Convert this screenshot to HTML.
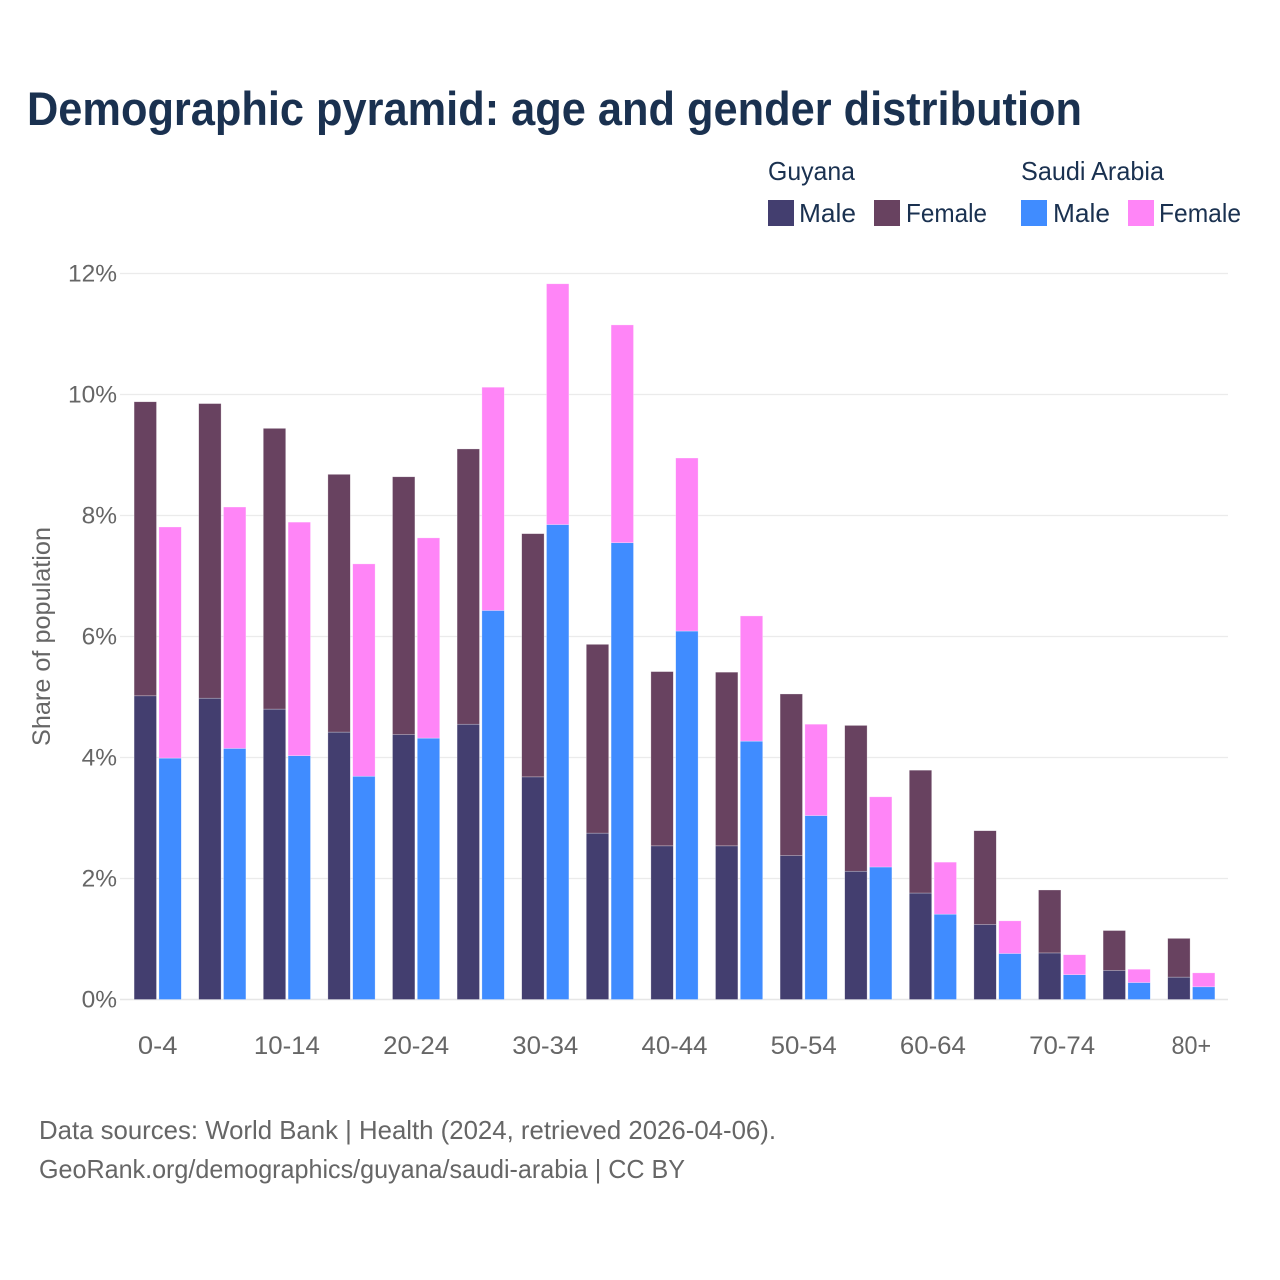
<!DOCTYPE html>
<html lang="en">
<head>
<meta charset="utf-8">
<title>Demographic pyramid: age and gender distribution</title>
<style>
html,body{margin:0;padding:0;background:#fff;width:1280px;height:1280px;overflow:hidden}
svg{display:block}
text{font-family:"Liberation Sans",sans-serif}
</style>
</head>
<body>
<svg id="chart" xmlns="http://www.w3.org/2000/svg" width="1280" height="1280" viewBox="0 0 1280 1280">
  <rect x="0" y="0" width="1280" height="1280" fill="#fff"/>
  <text x="27" y="125" font-size="47" font-weight="700" fill="#1a3150" textLength="1055" lengthAdjust="spacingAndGlyphs">Demographic pyramid: age and gender distribution</text>

  <g font-size="26" fill="#1a3150">
    <text x="768" y="180" textLength="87" lengthAdjust="spacingAndGlyphs">Guyana</text>
    <text x="1021" y="180" textLength="143" lengthAdjust="spacingAndGlyphs">Saudi Arabia</text>
    <rect x="768" y="200" width="26" height="26" fill="#433e6f"/>
    <text x="799" y="222" textLength="57" lengthAdjust="spacingAndGlyphs">Male</text>
    <rect x="874" y="200" width="26" height="26" fill="#684260"/>
    <text x="906" y="222" textLength="81" lengthAdjust="spacingAndGlyphs">Female</text>
    <rect x="1021" y="200" width="26" height="26" fill="#408cff"/>
    <text x="1053" y="222" textLength="57" lengthAdjust="spacingAndGlyphs">Male</text>
    <rect x="1128" y="200" width="26" height="26" fill="#ff85f7"/>
    <text x="1159" y="222" textLength="82" lengthAdjust="spacingAndGlyphs">Female</text>
  </g>

  <text transform="translate(50,636.5) rotate(-90)" text-anchor="middle" font-size="25" fill="#666" textLength="219" lengthAdjust="spacingAndGlyphs">Share of population</text>

  <g id="grid"></g>
  <g id="bars"></g>
  <g id="ylabels"></g>
  <g id="xlabels"></g>

  <text x="39" y="1139" font-size="26" fill="#666" textLength="737" lengthAdjust="spacingAndGlyphs">Data sources: World Bank | Health (2024, retrieved 2026-04-06).</text>
  <text x="39" y="1178" font-size="26" fill="#666" textLength="646" lengthAdjust="spacingAndGlyphs">GeoRank.org/demographics/guyana/saudi-arabia | CC BY</text>
</svg>
<script>
const ageGroups = ["0-4","5-9","10-14","15-19","20-24","25-29","30-34","35-39","40-44","45-49","50-54","55-59","60-64","65-69","70-74","75-79","80+"];
const xTickLabels = ["0-4","10-14","20-24","30-34","40-44","50-54","60-64","70-74","80+"];
const yTicks = [0,2,4,6,8,10,12];
const guyanaMale = [5.02,4.98,4.80,4.42,4.38,4.55,3.68,2.75,2.54,2.54,2.38,2.12,1.76,1.24,0.77,0.48,0.37];
const guyanaFemale = [4.86,4.87,4.64,4.26,4.26,4.55,4.02,3.12,2.88,2.87,2.67,2.41,2.03,1.55,1.04,0.66,0.64];
const saudiMale = [3.99,4.15,4.03,3.69,4.32,6.43,7.85,7.55,6.09,4.27,3.04,2.19,1.41,0.76,0.41,0.28,0.21];
const saudiFemale = [3.82,3.99,3.86,3.51,3.31,3.69,3.98,3.60,2.86,2.07,1.51,1.16,0.86,0.54,0.33,0.22,0.23];

const NS = "http://www.w3.org/2000/svg";
const PLOT = {left:125.4, band:64.6, bottom:999.5, pxPerUnit:60.5, gridLeft:120, gridRight:1228, barW:22.4, gap:2.4};
function yScale(v){ return PLOT.bottom - v * PLOT.pxPerUnit; }
function xCenter(cat){ return PLOT.left + (ageGroups.indexOf(cat) + 0.5) * PLOT.band; }

const gridG = document.getElementById("grid");
const ylabG = document.getElementById("ylabels");
const xlabG = document.getElementById("xlabels");
const barsG = document.getElementById("bars");

yTicks.forEach(function(t){
  const l = document.createElementNS(NS,"line");
  
  
  l.setAttribute("x1",PLOT.gridLeft);
  l.setAttribute("x2",PLOT.gridRight);
  l.setAttribute("y1",yScale(t));
  l.setAttribute("y2",yScale(t));
  l.setAttribute("stroke",t===0?"#e6e6e6":"#ebebeb");
  l.setAttribute("stroke-width",t===0?"1.6":"1.2");
  gridG.appendChild(l);

  const s = document.createElementNS(NS,"text");
  
  
  s.setAttribute("x",117);
  s.setAttribute("y",yScale(t)+8);
  s.setAttribute("text-anchor","end");
  s.setAttribute("font-size","24.5");
  s.setAttribute("fill","#666");
  s.textContent = t + "%";
  ylabG.appendChild(s);
});

xTickLabels.forEach(function(c){
  const s = document.createElementNS(NS,"text");
  
  
  s.setAttribute("x",xCenter(c));
  s.setAttribute("y",1054);
  s.setAttribute("text-anchor","middle");
  s.setAttribute("font-size","25");
  s.setAttribute("fill","#666");
  s.setAttribute("textLength", c.length * 13.2 - (c.indexOf("-") >= 0 ? 0 : 0));
  s.setAttribute("lengthAdjust","spacingAndGlyphs");
  s.textContent = c;
  xlabG.appendChild(s);
});

function drawBar(x, base, value, fill, name){
  const r = document.createElementNS(NS,"rect");
  
  
  const top = yScale(base + value);
  r.setAttribute("x",x);
  r.setAttribute("y",top);
  r.setAttribute("width",PLOT.barW);
  r.setAttribute("height",yScale(base) - top);
  r.setAttribute("fill",fill);
  r.setAttribute("stroke","#fff");
  r.setAttribute("stroke-opacity","0.45");
  r.setAttribute("stroke-width","0.6");
  barsG.appendChild(r);
}

ageGroups.forEach(function(c,i){
  const cx = xCenter(c);
  const x1 = cx - PLOT.gap/2 - PLOT.barW;
  const x2 = cx + PLOT.gap/2;
  drawBar(x1, 0, guyanaMale[i], "#433e6f", "bar-guyana-male");
  drawBar(x1, guyanaMale[i], guyanaFemale[i], "#684260", "bar-guyana-female");
  drawBar(x2, 0, saudiMale[i], "#408cff", "bar-saudi-male");
  drawBar(x2, saudiMale[i], saudiFemale[i], "#ff85f7", "bar-saudi-female");
});
</script>
</body>
</html>
